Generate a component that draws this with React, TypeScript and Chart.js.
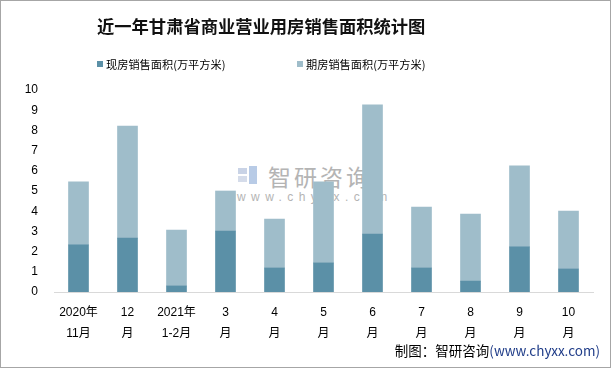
import React, { useEffect, useRef } from "react";
import { Chart, registerables } from "chart.js";

Chart.register(...registerables);

const categories: string[][] = [
  ["2020年", "11月"],
  ["12", "月"],
  ["2021年", "1-2月"],
  ["3", "月"],
  ["4", "月"],
  ["5", "月"],
  ["6", "月"],
  ["7", "月"],
  ["8", "月"],
  ["9", "月"],
  ["10", "月"],
];
const currentSales = [2.33, 2.67, 0.3, 3.02, 1.19, 1.44, 2.87, 1.19, 0.54, 2.23, 1.14];
const futureSales = [3.12, 5.55, 2.77, 1.98, 2.42, 4.01, 6.39, 3.02, 3.32, 4.01, 2.87];
const seriesNames = ["现房销售面积(万平方米)", "期房销售面积(万平方米)"];
const title = "近一年甘肃省商业营业用房销售面积统计图";
const source = "制图：智研咨询";
const sourceUrl = "(www.chyxx.com)";

const DARK = "#5b90a7";
const LIGHT = "#9fbdca";
const FONT = "'Liberation Sans', 'Noto Sans CJK SC', sans-serif";

export default function App() {
  const ref = useRef<HTMLCanvasElement>(null);
  useEffect(() => {
    document.body.style.margin = "0";
    const chart = new Chart(ref.current!, {
      type: "bar",
      data: {
        labels: categories,
        datasets: [
          { label: seriesNames[0], data: currentSales, backgroundColor: DARK, barThickness: 20 },
          { label: seriesNames[1], data: futureSales, backgroundColor: LIGHT, barThickness: 20 },
        ],
      },
      options: {
        animation: false,
        responsive: false,
        layout: { padding: { top: 90, right: 18, left: 0, bottom: 0 } },
        plugins: { legend: { display: false }, title: { display: false }, tooltip: { enabled: false } },
        scales: {
          x: {
            stacked: true,
            grid: { display: false, drawTicks: false },
            border: { display: true, color: "#d9d9d9", width: 1 },
            ticks: {
              color: "#000",
              font: { family: FONT, size: 12, lineHeight: 1.75 },
              padding: 10,
              maxRotation: 0,
              autoSkip: false,
            },
            afterFit: (s: any) => {
              s.height = 76;
            },
          },
          y: {
            stacked: true,
            min: 0,
            max: 10,
            grid: { display: false, drawTicks: false },
            border: { display: false },
            ticks: {
              stepSize: 1,
              color: "#000",
              font: { family: FONT, size: 12 },
              padding: 16,
            },
            afterFit: (s: any) => {
              s.width = 54;
            },
          },
        },
      },
    });
    return () => chart.destroy();
  }, []);

  return (
    <div
      style={{
        position: "absolute",
        left: 0,
        top: 0,
        width: 611,
        height: 368,
        boxSizing: "border-box",
        border: "1px solid #a6a6a6",
        background: "#fff",
        fontFamily: FONT,
        overflow: "hidden",
      }}
    >
      {/* watermark */}
      <div style={{ position: "absolute", left: 236, top: 163, width: 140, height: 45, color: "#b4b4b4" }}>
        <div style={{ position: "absolute", left: 1, top: 4, width: 9, height: 6, background: "#c9d3e6" }} />
        <div style={{ position: "absolute", left: 1, top: 12, width: 9, height: 6, background: "#d5dcea" }} />
        <div style={{ position: "absolute", left: 12, top: 2, width: 8, height: 18, background: "#b8cbe6" }} />
        <div style={{ position: "absolute", left: 31, top: -5, fontSize: 23, letterSpacing: 3, fontFamily: "'Noto Sans CJK SC'", whiteSpace: "nowrap" }}>智研咨询</div>
        <div style={{ position: "absolute", left: 0, top: 26, fontSize: 12, letterSpacing: 5.4, whiteSpace: "nowrap" }}>www.chyxx.com</div>
      </div>
      <canvas ref={ref} width={611} height={368} style={{ position: "absolute", left: -1, top: -1 }} />
      <div
        style={{
          position: "absolute",
          left: 96,
          top: 12,
          fontSize: 17.3,
          fontWeight: "bold",
          fontFamily: "'Noto Sans CJK SC', sans-serif",
          color: "#111",
          whiteSpace: "nowrap",
          lineHeight: "26px",
        }}
      >
        {title}
      </div>
      {[0, 1].map((i) => (
        <div
          key={i}
          style={{
            position: "absolute",
            left: i === 0 ? 96 : 296,
            top: 55,
            display: "flex",
            alignItems: "center",
            fontSize: 11.2,
            color: "#000",
            whiteSpace: "nowrap",
            fontFamily: "'Noto Sans CJK SC', sans-serif",
          }}
        >
          <span style={{ display: "inline-block", width: 6, height: 6, background: i === 0 ? DARK : LIGHT, marginRight: 3 }} />
          {seriesNames[i]}
        </div>
      ))}
      <div
        style={{
          position: "absolute",
          right: 10,
          top: 339,
          fontSize: 13.5,
          whiteSpace: "nowrap",
          fontFamily: "'Noto Sans CJK SC', sans-serif",
        }}
      >
        <span style={{ color: "#000" }}>{source}</span>
        <span style={{ color: "#1f3c88" }}>{sourceUrl}</span>
      </div>
    </div>
  );
}
